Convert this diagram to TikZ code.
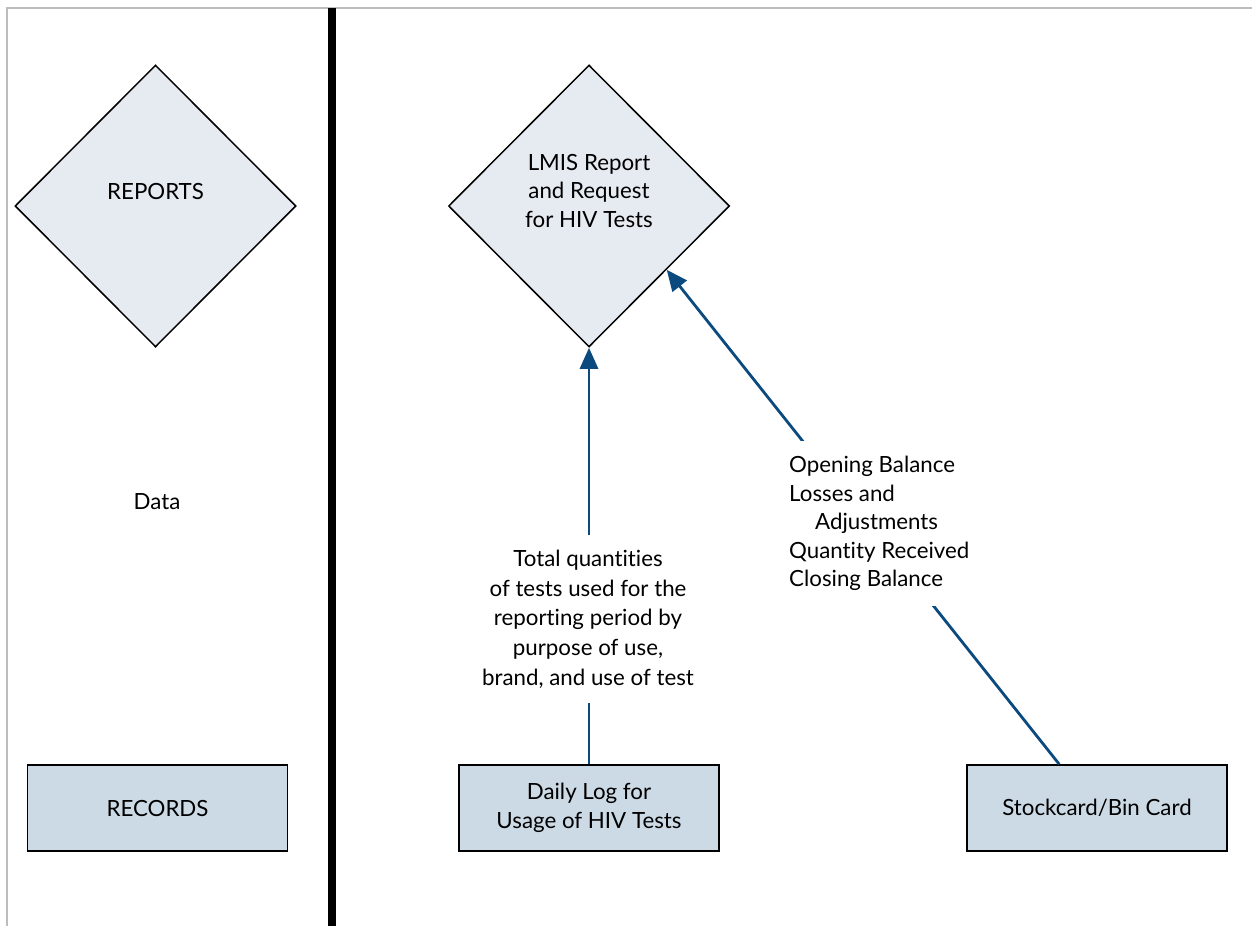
\documentclass[tikz,border=0pt]{standalone}
\usepackage{fontspec}
\setmainfont{Lato}[Ligatures={NoCommon}]
\usetikzlibrary{shapes.geometric,arrows.meta,calc}
\definecolor{arrowblue}{HTML}{0B4A7E}
\definecolor{diamfill}{HTML}{E6EAF1}
\definecolor{boxfill}{HTML}{CCDAE5}
\definecolor{framegray}{HTML}{BDBDBD}
\newcommand\lbltext{\fontsize{22.3}{28.5}\selectfont}
\newcommand\lbltextb{\fontsize{22.3}{29.7}\selectfont}
\begin{document}
\begin{tikzpicture}[x=1pt,y=-1pt,
  diam/.style={diamond, aspect=1, draw=black, line width=1.5pt, fill=diamfill,
    minimum width=281pt, minimum height=282pt, inner sep=0pt},
  recbox/.style={rectangle, draw=black, line width=1.5pt, fill=boxfill,
    minimum width=260pt, minimum height=86pt, inner sep=0pt, align=center, font=\lbltext},
  txt/.style={align=center, font=\lbltext, inner sep=0pt},
  flow/.style={draw=arrowblue, line width=2.8pt, -{Triangle[length=21pt,width=18pt]}},
  cover/.style={fill=white, font=\lbltext}
]
\useasboundingbox (0,0) rectangle (1252,926);
% frame
\draw[framegray, line width=2pt] (7,926) -- (7,7.5) -- (1252,7.5);
% divider
\draw[black, line width=8pt] (332,8) -- (332,926);

% left legend
\node[diam] (legrep) at (155.5,206) {};
\node[txt] (legreptext) at (155.5,192) {REPORTS};
\node[txt] (legdata) at (157,502) {Data};
\node[recbox] (legrec) at (157.5,808) {RECORDS};

% right diagram
\node[diam] (rep) at (589,206) {};
\node[txt] (reptext) at (589,191) {LMIS Report\\and Request\\for HIV Tests};
\node[recbox] (log) at (589,808) {Daily Log for\\Usage of HIV Tests};
\node[recbox] (stock) at (1097,808) {Stockcard/Bin Card};

% connectors
\draw[flow] (log.north) -- (rep.south);
\coordinate (stockout) at ($(stock.north west)+(93,0)$);
\coordinate (repin) at ($(rep.east)!0.45!(rep.south)$);
\draw[flow] (stockout) -- (repin);

% connector labels (white backgrounds break the lines)
\node[cover, align=center, inner xsep=6pt, inner ysep=0pt, minimum height=168pt, font=\lbltextb] (loglabel) at (588,619)
  {Total quantities\\of tests used for the\\reporting period by\\purpose of use,\\brand, and use of test};
\node[cover, align=left, inner xsep=4pt, inner ysep=0pt, minimum height=165pt, anchor=west] (stocklabel) at (785,523.5)
  {Opening Balance\\Losses and\\\hspace*{26pt}Adjustments\\Quantity Received\\Closing Balance};
\end{tikzpicture}
\end{document}
